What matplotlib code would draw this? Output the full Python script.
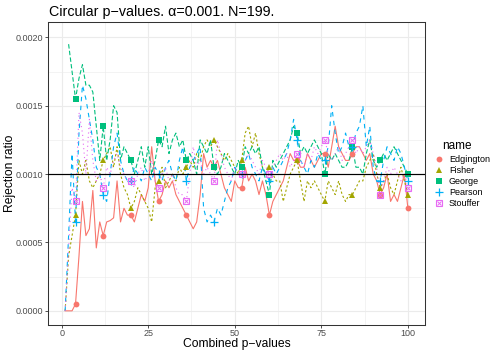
import matplotlib
matplotlib.use("Agg")
import matplotlib.pyplot as plt
from matplotlib.lines import Line2D
import numpy as np

plt.rcParams['font.family'] = ['Liberation Sans', 'DejaVu Sans']

names = ["Edgington", "Fisher", "George", "Pearson", "Stouffer"]
x_all = list(range(1, 101))
x_george = list(range(2, 101))

# rejection ratios (x 1e-3)
edgington = [0, 0, 0, 0.05, 0.40, 0.80, 0.55, 0.60, 0.88, 0.46,
             0.65, 0.55, 0.65, 0.66, 0.68, 0.95, 0.65, 0.75, 0.70, 0.70,
             0.65, 0.75, 0.85, 0.80, 0.90, 1.20, 0.95, 0.80, 0.85, 0.95,
             0.90, 0.95, 0.85, 0.80, 0.75, 0.70, 0.65, 0.60, 0.65, 0.85,
             1.15, 1.05, 1.10, 1.05, 1.10, 1.00, 0.90, 0.85, 0.80, 0.95,
             0.90, 0.90, 1.05, 0.95, 1.00, 0.95, 0.85, 0.95, 0.85, 0.70,
             0.80, 0.85, 0.90, 0.95, 1.05, 1.15, 1.10, 1.10, 1.05, 1.05,
             1.15, 1.10, 1.05, 1.10, 1.15, 1.15, 1.05, 1.20, 1.35, 1.20,
             1.15, 1.10, 1.10, 1.15, 1.20, 1.20, 1.15, 1.10, 1.15, 1.00,
             0.95, 0.85, 0.90, 1.00, 0.80, 0.85, 0.80, 0.90, 1.00, 0.75]
fisher = [0, 0.40, 0.55, 0.70, 1.10, 1.00, 1.10, 0.95, 0.90, 0.95,
          1.00, 1.10, 1.15, 1.20, 1.05, 1.20, 1.00, 0.90, 0.85, 0.75,
          0.80, 0.90, 0.85, 0.80, 0.75, 0.65, 0.90, 0.95, 1.05, 0.90,
          0.95, 1.00, 0.95, 1.05, 1.00, 1.05, 1.10, 1.05, 1.15, 1.10,
          1.20, 1.25, 1.20, 1.25, 1.20, 1.15, 1.10, 1.15, 1.10, 1.05,
          1.00, 1.10, 1.30, 1.35, 1.20, 1.30, 1.15, 1.05, 1.00, 1.05,
          1.00, 0.95, 0.95, 0.80, 0.90, 1.00, 1.05, 1.10, 0.95, 0.80,
          0.95, 0.90, 0.95, 0.90, 0.85, 0.80, 0.95, 0.90, 0.85, 0.95,
          0.85, 0.80, 0.85, 0.85, 0.90, 0.95, 0.95, 1.05, 1.10, 1.15,
          1.00, 0.90, 0.95, 1.00, 0.90, 0.85, 0.95, 1.05, 0.95, 0.85]
george = [1.95, 1.75, 1.55, 1.70, 1.80, 1.65, 1.65, 1.60, 1.35,
          1.10, 1.35, 1.10, 1.25, 1.50, 1.45, 1.10, 1.20, 1.15, 1.10,
          1.00, 1.10, 1.20, 1.05, 1.20, 1.00, 1.10, 1.25, 1.20, 1.35,
          1.15, 1.25, 1.30, 1.20, 1.25, 1.10, 1.15, 1.10, 1.00, 1.25,
          1.20, 1.15, 1.25, 1.05, 1.00, 1.05, 1.15, 1.10, 1.05, 1.00,
          1.10, 1.05, 1.20, 1.15, 1.20, 1.15, 1.20, 1.05, 0.95, 0.85,
          1.10, 1.05, 1.10, 1.15, 1.20, 1.25, 1.35, 1.30, 1.15, 1.20,
          1.15, 1.20, 1.25, 1.20, 1.15, 1.00, 1.15, 1.10, 1.15, 1.10,
          1.05, 1.05, 1.10, 1.20, 1.05, 1.05, 1.00, 1.15, 1.25, 1.10,
          1.05, 1.10, 1.15, 1.10, 1.15, 1.20, 1.15, 1.10, 1.05, 1.00]
pearson = [0, 0.55, 1.15, 0.65, 1.30, 1.65, 1.55, 1.40, 1.25, 1.05,
           1.00, 0.85, 0.80, 1.00, 1.20, 1.30, 1.10, 1.00, 0.95, 0.95,
           1.05, 1.00, 0.95, 1.05, 1.00, 0.95, 1.05, 1.00, 0.95, 1.05,
           1.10, 1.00, 0.95, 1.10, 1.20, 0.95, 1.05, 1.10, 1.15, 1.20,
           0.75, 0.65, 0.70, 0.65, 0.75, 0.70, 0.80, 0.90, 0.95, 1.05,
           1.00, 1.00, 1.10, 1.15, 1.05, 1.00, 0.95, 1.05, 1.00, 0.95,
           1.05, 1.00, 1.05, 1.10, 1.15, 1.25, 1.40, 1.25, 1.10, 1.05,
           1.00, 1.10, 1.05, 1.15, 1.10, 1.10, 1.20, 1.50, 1.30, 1.15,
           1.20, 1.30, 1.20, 1.20, 1.30, 1.35, 1.50, 1.20, 1.35, 1.05,
           0.95, 0.95, 1.10, 1.20, 1.15, 1.10, 1.20, 1.15, 1.05, 0.95]
stouffer = [0, 0.45, 0.90, 0.80, 1.45, 1.30, 1.00, 1.40, 1.10, 0.95,
            1.00, 0.90, 1.05, 1.00, 1.10, 1.15, 1.05, 1.00, 0.95, 0.95,
            0.90, 1.00, 1.05, 0.95, 1.00, 1.10, 0.95, 0.90, 1.00, 1.05,
            0.95, 1.00, 0.90, 0.85, 0.85, 0.80, 1.00, 1.20, 1.05, 1.10,
            1.00, 1.05, 1.00, 0.95, 1.25, 1.15, 1.05, 1.00, 0.95, 1.05,
            1.00, 1.00, 1.10, 1.15, 1.10, 1.05, 1.00, 1.10, 1.05, 1.00,
            1.05, 1.10, 1.15, 1.10, 1.15, 1.05, 1.10, 1.15, 1.10, 1.05,
            1.15, 1.10, 1.20, 1.15, 1.20, 1.25, 1.15, 1.10, 1.15, 1.20,
            1.10, 1.15, 1.20, 1.25, 1.15, 1.20, 1.15, 1.20, 1.25, 1.15,
            1.05, 0.85, 0.95, 1.05, 1.00, 1.05, 1.00, 0.95, 1.00, 0.90]

marker_x = list(range(4, 101, 8))
alpha_level = 0.001
x_ticks = [0, 25, 50, 75, 100]
y_ticks = [0.0, 0.0005, 0.0010, 0.0015, 0.0020]

series = {
    "Edgington": (x_all, edgington),
    "Fisher": (x_all, fisher),
    "George": (x_george, george),
    "Pearson": (x_all, pearson),
    "Stouffer": (x_all, stouffer),
}
colors = {"Edgington": "#F8766D", "Fisher": "#A3A500", "George": "#00BF7D",
          "Pearson": "#00B0F6", "Stouffer": "#E76BF3"}
dashes = {"Edgington": "-", "Fisher": (0, (2, 2)), "George": (0, (4, 2)),
          "Pearson": (0, (4, 4)), "Stouffer": (0, (1, 3))}
markers = {"Edgington": "o", "Fisher": "^", "George": "s"}

fig = plt.figure(figsize=(4.98, 3.53), dpi=100)
ax = fig.add_axes([48/498, 1 - 324.5/353, (425-48)/498, (324.5-22.3)/353])

for n in names:
    xs, ys = series[n]
    ax.plot(xs, np.array(ys) * 1e-3, color=colors[n], linestyle=dashes[n],
            lw=0.8, zorder=3)
for n in names:
    xs, ys = series[n]
    d = dict(zip(xs, ys))
    mx = [m for m in marker_x if m in d]
    my = [d[m] * 1e-3 for m in mx]
    if n == "Pearson":
        ax.plot(mx, my, ls='none', marker='+', ms=6, mew=0.9, color=colors[n], zorder=4)
    elif n == "Stouffer":
        ax.plot(mx, my, ls='none', marker='s', ms=4.2, mfc='none', mew=0.8, color=colors[n], zorder=4)
        ax.plot(mx, my, ls='none', marker='x', ms=3.4, mew=0.7, color=colors[n], zorder=4)
    else:
        ms = 4.2 if n != "Fisher" else 4.6
        ax.plot(mx, my, ls='none', marker=markers[n], ms=ms, mew=0, color=colors[n], zorder=4)

ax.axhline(alpha_level, color='black', lw=0.85, zorder=5)

ax.set_xlim(-3.95, 104.95)
ax.set_ylim(-0.0001, 0.00211)
ax.set_xticks(x_ticks)
ax.set_xticklabels([str(v) for v in x_ticks])
ax.set_yticks(y_ticks)
ax.set_yticklabels([f"{v:.4f}" for v in y_ticks])
ax.set_xticks([12.5, 37.5, 62.5, 87.5], minor=True)
ax.set_yticks([0.00025, 0.00075, 0.00125, 0.00175], minor=True)
ax.grid(True, which='major', color='#EBEBEB', lw=0.8, zorder=0)
ax.grid(True, which='minor', color='#EBEBEB', lw=0.4, zorder=0)
ax.set_axisbelow(True)
for s in ax.spines.values():
    s.set_color('#333333')
    s.set_linewidth(0.75)
ax.tick_params(which='major', length=2.0, width=0.6, color='#333333',
               labelsize=6.5, labelcolor='#4D4D4D', pad=1.6)
ax.tick_params(which='minor', length=0)
ax.set_xlabel("Combined p\u2212values", fontsize=8.7, va='center')
ax.set_ylabel("Rejection ratio", fontsize=8.7, va='center')
ax.yaxis.set_label_coords((10 - 48) / 377, 0.5)
ax.xaxis.set_label_coords(0.5, (324.5 - 344.5) / 302.2)
fig.text(49/498, 1 - 12/353, "Circular p\u2212values. \u03b1=0.001. N=199.",
         fontsize=10.3, ha='left', va='center')

handles = []
for n in names:
    if n == "Pearson":
        h = Line2D([], [], ls='none', marker='+', ms=6, mew=0.9, color=colors[n])
    elif n == "Stouffer":
        h = (Line2D([], [], ls='none', marker='s', ms=4.2, mfc='none', mew=0.8, color=colors[n]),
             Line2D([], [], ls='none', marker='x', ms=3.4, mew=0.7, color=colors[n]))
    else:
        h = Line2D([], [], ls='none', marker=markers[n], ms=4.2, mew=0, color=colors[n])
    handles.append(h)
fig.text(442/498, 1 - 146/353, "name", fontsize=8.5, ha='left', va='center')
leg = fig.legend(handles, names, loc='upper left', bbox_to_anchor=(434/498, 1 - 155.5/353),
                 frameon=False, fontsize=6.5,
                 handlelength=1.2, handletextpad=0.45,
                 labelspacing=0.2, borderaxespad=0, borderpad=0)
fig.savefig("out.png", dpi=100)
